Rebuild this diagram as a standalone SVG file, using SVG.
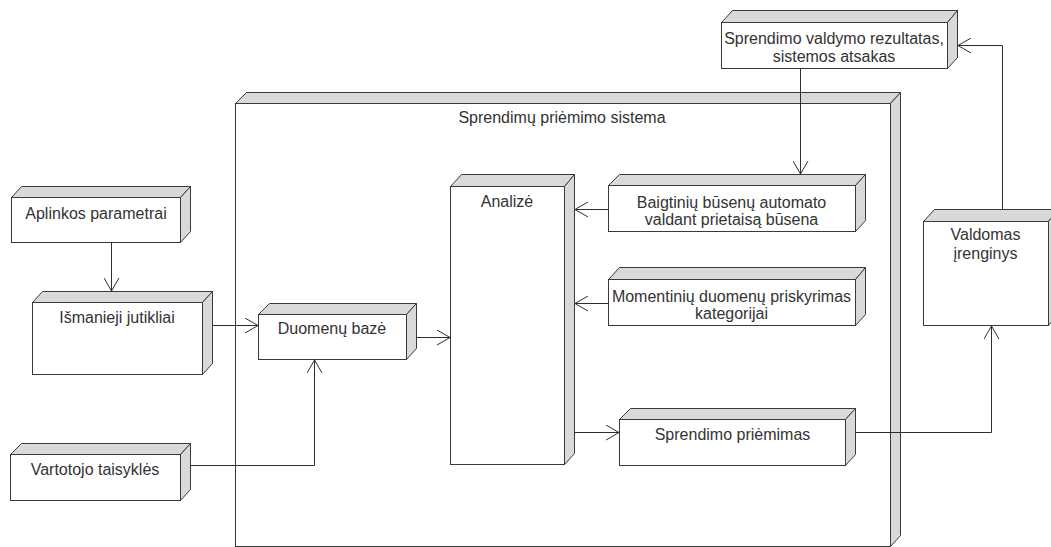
<svg xmlns="http://www.w3.org/2000/svg" width="1051" height="547" viewBox="0 0 1051 547">
<defs>
<style>
.front{fill:#ffffff;stroke:#3a3a3a;stroke-width:1}
.face{fill:#d9d9d9;stroke:#3a3a3a;stroke-width:1;stroke-linejoin:miter}
.lbl{font-family:"Liberation Sans",Arial,sans-serif;font-size:16px;fill:#333333;text-anchor:middle}
.conn{fill:none;stroke:#2e2e2e;stroke-width:1}
</style>
<marker id="open" viewBox="0 0 14 16" refX="13" refY="8" markerWidth="14" markerHeight="16" markerUnits="userSpaceOnUse" orient="auto">
<path d="M0,0.5 L13,8 L0,15.5" fill="none" stroke="#2e2e2e" stroke-width="1"/>
</marker>
</defs>
<rect width="1051" height="547" fill="#ffffff"/>

<g id="sistema">
<polygon class="face" points="235.5,103.5 246.5,92.5 900.5,92.5 890.5,103.5"/>
<polygon class="face" points="890.5,103.5 900.5,92.5 900.5,535.5 890.5,546.5"/>
<rect class="front" x="235.5" y="103.5" width="655" height="443"/>
<text class="lbl" x="562" y="123">Sprendimų priėmimo sistema</text>
</g>

<g id="rezultatas">
<polygon class="face" points="721.5,22.5 732.5,10.5 957.5,10.5 947.5,22.5"/>
<polygon class="face" points="947.5,22.5 957.5,10.5 957.5,57.5 947.5,68.5"/>
<rect class="front" x="721.5" y="22.5" width="226" height="46"/>
<text class="lbl" x="834" y="43.5">Sprendimo valdymo rezultatas,</text>
<text class="lbl" x="834" y="61.5">sistemos atsakas</text>
</g>

<g id="aplinkos">
<polygon class="face" points="11.5,197.5 21.5,186.5 190.5,186.5 180.5,197.5"/>
<polygon class="face" points="180.5,197.5 190.5,186.5 190.5,231.5 180.5,242.5"/>
<rect class="front" x="11.5" y="197.5" width="169" height="45"/>
<text class="lbl" x="96" y="219">Aplinkos parametrai</text>
</g>

<g id="jutikliai">
<polygon class="face" points="32.5,302.5 42.5,291.5 212.5,291.5 202.5,302.5"/>
<polygon class="face" points="202.5,302.5 212.5,291.5 212.5,363.5 202.5,374.5"/>
<rect class="front" x="32.5" y="302.5" width="170" height="72"/>
<text class="lbl" x="117" y="323">Išmanieji jutikliai</text>
</g>

<g id="duomenu-baze">
<polygon class="face" points="258.5,314.5 269.5,303.5 416.5,303.5 406.5,314.5"/>
<polygon class="face" points="406.5,314.5 416.5,303.5 416.5,348.5 406.5,359.5"/>
<rect class="front" x="258.5" y="314.5" width="148" height="45"/>
<text class="lbl" x="332" y="334">Duomenų bazė</text>
</g>

<g id="vartotojo">
<polygon class="face" points="10.5,454.5 21.5,443.5 190.5,443.5 180.5,454.5"/>
<polygon class="face" points="180.5,454.5 190.5,443.5 190.5,489.5 180.5,500.5"/>
<rect class="front" x="10.5" y="454.5" width="170" height="46"/>
<text class="lbl" x="95" y="475">Vartotojo taisyklės</text>
</g>

<g id="analize">
<polygon class="face" points="450.5,186.5 461.5,174.5 574.5,174.5 564.5,186.5"/>
<polygon class="face" points="564.5,186.5 574.5,174.5 574.5,453.5 564.5,464.5"/>
<rect class="front" x="450.5" y="186.5" width="114" height="278"/>
<text class="lbl" x="507" y="206.5">Analizė</text>
</g>

<g id="baigtiniu">
<polygon class="face" points="608.5,185.5 619.5,174.5 865.5,174.5 855.5,185.5"/>
<polygon class="face" points="855.5,185.5 865.5,174.5 865.5,220.5 855.5,231.5"/>
<rect class="front" x="608.5" y="185.5" width="247" height="46"/>
<text class="lbl" x="731.5" y="207.5">Baigtinių būsenų automato</text>
<text class="lbl" x="731.5" y="225">valdant prietaisą būsena</text>
</g>

<g id="momentiniu">
<polygon class="face" points="608.5,279.5 619.5,267.5 865.5,267.5 855.5,279.5"/>
<polygon class="face" points="855.5,279.5 865.5,267.5 865.5,314.5 855.5,325.5"/>
<rect class="front" x="608.5" y="279.5" width="247" height="46"/>
<text class="lbl" x="731.5" y="301.5">Momentinių duomenų priskyrimas</text>
<text class="lbl" x="731.5" y="319">kategorijai</text>
</g>

<g id="priemimas">
<polygon class="face" points="619.5,419.5 630.5,408.5 855.5,408.5 845.5,419.5"/>
<polygon class="face" points="845.5,419.5 855.5,408.5 855.5,454.5 845.5,465.5"/>
<rect class="front" x="619.5" y="419.5" width="226" height="46"/>
<text class="lbl" x="732.5" y="440">Sprendimo priėmimas</text>
</g>

<g id="valdomas">
<polygon class="face" points="923.5,221.5 934.5,209.5 1058.5,209.5 1048.5,221.5"/>
<polygon class="face" points="1048.5,221.5 1058.5,209.5 1058.5,313.5 1048.5,325.5"/>
<rect class="front" x="923.5" y="221.5" width="125" height="104"/>
<text class="lbl" x="985.5" y="240">Valdomas</text>
<text class="lbl" x="985.5" y="259">įrenginys</text>
</g>

<g id="connectors">
<path class="conn" d="M800.5,68.5 V174" marker-end="url(#open)"/>
<path class="conn" d="M1002.5,209.5 V45.5 H958" marker-end="url(#open)"/>
<path class="conn" d="M111.5,242.5 V291" marker-end="url(#open)"/>
<path class="conn" d="M212.5,325.5 H258" marker-end="url(#open)"/>
<path class="conn" d="M416.5,337.5 H450" marker-end="url(#open)"/>
<path class="conn" d="M190.5,465.5 H314.5 V360" marker-end="url(#open)"/>
<path class="conn" d="M608.5,209.5 H575" marker-end="url(#open)"/>
<path class="conn" d="M608.5,303.5 H575" marker-end="url(#open)"/>
<path class="conn" d="M574.5,432.5 H619" marker-end="url(#open)"/>
<path class="conn" d="M855.5,432.5 H991.5 V326" marker-end="url(#open)"/>
</g>
</svg>
